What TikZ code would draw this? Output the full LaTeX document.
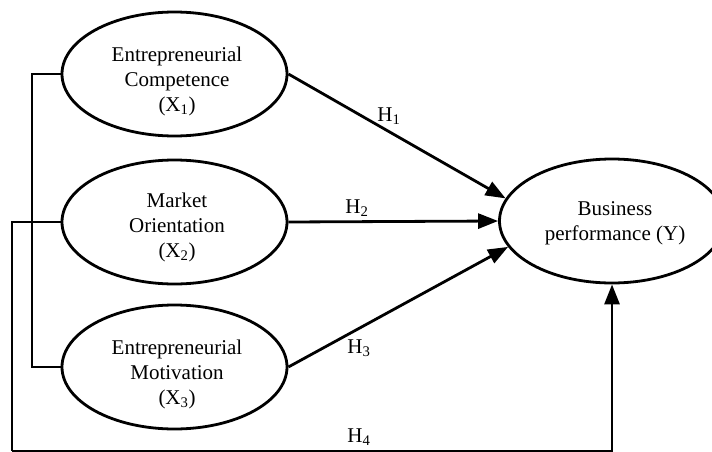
\documentclass[tikz,border=0pt]{standalone}
\usepackage{fontspec}
\setmainfont{Liberation Serif}
\usetikzlibrary{shapes.geometric,arrows.meta}
\begin{document}
\begin{tikzpicture}[x=1pt,y=-1pt,
  ell/.style={draw,line width=2.8pt,ellipse,minimum width=225pt,minimum height=124pt,inner sep=0pt},
  txt/.style={align=center,inner sep=0pt,font=\fontsize{21}{25}\selectfont},
  hlab/.style={inner sep=0pt,font=\fontsize{21}{25}\selectfont},
  arr/.style={line width=2.8pt,-{Triangle[length=20pt,width=15pt]}},
  lnk/.style={line width=2pt}]
\useasboundingbox (0,0) rectangle (712,452);
\node[ell] (x1) at (174.5,74) {};
\node[ell] (x2) at (174.5,222) {};
\node[ell] (x3) at (174.5,367) {};
\node[ell] (y) at (612,221) {};
\node[txt] (x1t) at (177,81) {Entrepreneurial\\Competence\\(X\textsubscript{1})};
\node[txt] (x2t) at (177,227) {Market\\Orientation\\(X\textsubscript{2})};
\node[txt] (x3t) at (177,374) {Entrepreneurial\\Motivation\\(X\textsubscript{3})};
\node[txt] (yt) at (615,223) {Business\\performance (Y)};
\draw[arr] (x1.east) -- (y.168);
\draw[arr] (x2.east) -- (y.west);
\draw[arr] (x3.east) -- (y.194);
\draw[lnk] (x1.west) -- ++(-29,0) |- (x3.west);
\coordinate (bl) at (12,451);
\draw[lnk] (x2.west) -| (bl);
\draw[arr] (bl) -| (y.south);
\node[hlab] (h1) at (389,116) {H\textsubscript{1}};
\node[hlab] (h2) at (357,208) {H\textsubscript{2}};
\node[hlab] (h3) at (359,348) {H\textsubscript{3}};
\node[hlab] (h4) at (359,437) {H\textsubscript{4}};
\end{tikzpicture}
\end{document}
